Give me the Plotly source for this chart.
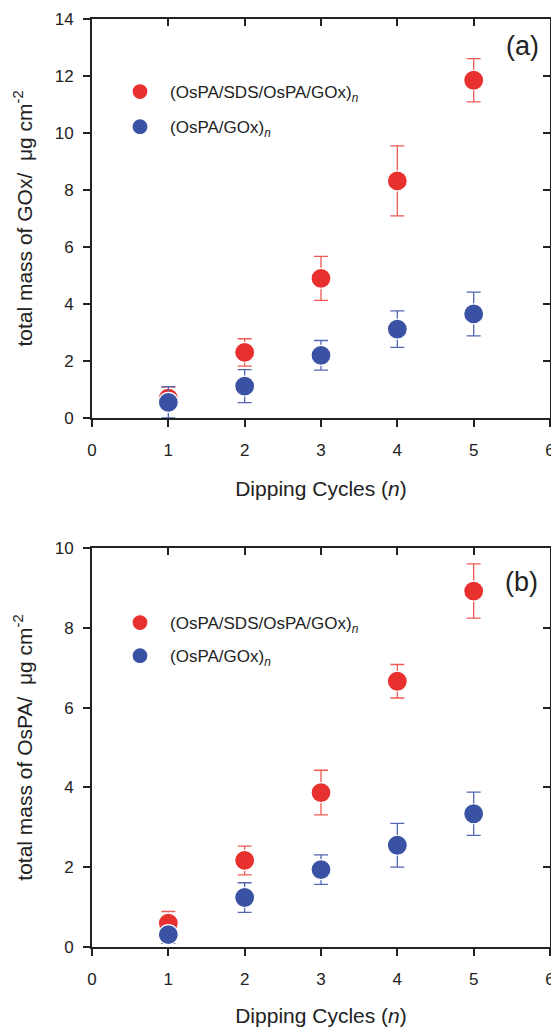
import plotly.graph_objects as go

# ---------------- data ----------------
cycles = [1, 2, 3, 4, 5]
x_tick_vals = [0, 1, 2, 3, 4, 5, 6]
ya_tick_vals = [0, 2, 4, 6, 8, 10, 12, 14]
yb_tick_vals = [0, 2, 4, 6, 8, 10]

series_names = ["(OsPA/SDS/OsPA/GOx)<sub><i>n</i></sub>", "(OsPA/GOx)<sub><i>n</i></sub>"]

# panel (a): total mass of GOx
gox_multi = [0.70, 2.30, 4.90, 8.32, 11.85]
gox_multi_err = [0.38, 0.48, 0.77, 1.23, 0.76]
gox_bi = [0.55, 1.12, 2.20, 3.12, 3.65]
gox_bi_err = [0.55, 0.58, 0.52, 0.64, 0.77]

# panel (b): total mass of OsPA
ospa_multi = [0.60, 2.17, 3.87, 6.66, 8.92]
ospa_multi_err = [0.29, 0.36, 0.56, 0.42, 0.68]
ospa_bi = [0.31, 1.24, 1.94, 2.55, 3.34]
ospa_bi_err = [0.22, 0.37, 0.37, 0.55, 0.54]

# ---------------- style ----------------
RED = "#e8302e"
RED_ERR = "#ef5a55"
BLUE = "#3a52a3"
BLUE_ERR = "#5367b4"
AX = "#222222"
FONT = "Liberation Sans, Arial, sans-serif"

fig = go.Figure()


def add_series(y, err, color, ecolor, name, xa, ya, legend):
    fig.add_trace(go.Scatter(
        x=cycles, y=y, mode="markers", name=name,
        xaxis=xa, yaxis=ya, legend=legend, legendgroup=legend + name,
        marker=dict(size=20, color=color, line=dict(color="white", width=1.2)),
        error_y=dict(type="data", array=err, visible=True, color=ecolor,
                     thickness=1.3, width=7),
        showlegend=True,
    ))


def add_frame_carrier(y, xa, ya):
    # invisible carrier so the mirrored (inside-tick) top/right axes get drawn
    fig.add_trace(go.Scatter(
        x=cycles, y=y, mode="markers", xaxis=xa, yaxis=ya,
        marker=dict(size=1, opacity=0), hoverinfo="skip", showlegend=False,
    ))


add_series(gox_multi, gox_multi_err, RED, RED_ERR, series_names[0], "x", "y", "legend")
add_series(gox_bi, gox_bi_err, BLUE, BLUE_ERR, series_names[1], "x", "y", "legend")
add_series(ospa_multi, ospa_multi_err, RED, RED_ERR, series_names[0], "x2", "y2", "legend2")
add_series(ospa_bi, ospa_bi_err, BLUE, BLUE_ERR, series_names[1], "x2", "y2", "legend2")
add_frame_carrier(gox_multi, "x3", "y3")
add_frame_carrier(ospa_multi, "x4", "y4")

L, R, T, B = 92, 1, 19, 80
W, H = 551, 1027
ph = H - T - B
dom_a = [(H - B - 418) / ph, 1.0]
dom_b = [0.0, 399 / ph]

tickfont = dict(family=FONT, size=17, color=AX)
titlefont = dict(family=FONT, size=21, color=AX)


def base_x(domain_anchor, title):
    return dict(range=[0, 6], tickvals=x_tick_vals, showgrid=False, zeroline=False,
                showline=True, linewidth=2, linecolor=AX, ticks="outside", ticklen=7,
                tickwidth=2, tickcolor=AX, tickfont=tickfont, ticklabelstandoff=9,
                ticklabeloverflow="allow", mirror=True, automargin=False,
                title=dict(text=title, font=titlefont, standoff=22),
                anchor=domain_anchor, fixedrange=True)


def base_y(domain, rng, tv, anchor, title):
    return dict(range=rng, tickvals=tv, domain=domain, showgrid=False, zeroline=False,
                showline=True, linewidth=2, linecolor=AX, ticks="outside", ticklen=7,
                tickwidth=2, tickcolor=AX, tickfont=tickfont, ticklabelstandoff=6,
                mirror=True, automargin=False,
                title=dict(text=title, font=titlefont, standoff=16),
                anchor=anchor, fixedrange=True)


def mirror_x(over, anchor):
    return dict(overlaying=over, side="top", anchor=anchor, range=[0, 6], tickvals=x_tick_vals,
                showticklabels=False, ticks="inside", ticklen=7, tickwidth=2, tickcolor=AX,
                showline=True, linewidth=2, linecolor=AX, showgrid=False, zeroline=False,
                automargin=False, fixedrange=True)


def mirror_y(over, anchor, rng, tv):
    return dict(overlaying=over, side="right", anchor=anchor, range=rng, tickvals=tv,
                showticklabels=False, ticks="inside", ticklen=7, tickwidth=2, tickcolor=AX,
                showline=True, linewidth=2, linecolor=AX, showgrid=False, zeroline=False,
                automargin=False, fixedrange=True)


def py(px):
    return (H - B - px) / ph


def pxx(px):
    return (px - L) / (W - L - R)


legend_common = dict(font=dict(family=FONT, size=17, color=AX), bgcolor="rgba(0,0,0,0)",
                     itemsizing="trace", itemwidth=50,
                     xanchor="left", yanchor="top", xref="paper", yref="paper",
                     traceorder="grouped", itemclick=False, itemdoubleclick=False)

fig.update_layout(
    width=W, height=H,
    margin=dict(l=L, r=R, t=T, b=B, autoexpand=False),
    paper_bgcolor="white", plot_bgcolor="white",
    font=dict(family=FONT, color=AX),
    xaxis=base_x("y", "Dipping Cycles (<i>n</i>)"),
    yaxis=base_y(dom_a, [0, 14], ya_tick_vals, "x", "total mass of GOx/  \u03bcg cm<sup>-2</sup>"),
    xaxis2=base_x("y2", "Dipping Cycles (<i>n</i>)"),
    yaxis2=base_y(dom_b, [0, 10], yb_tick_vals, "x2", "total mass of OsPA/  \u03bcg cm<sup>-2</sup>"),
    xaxis3=mirror_x("x", "y"),
    yaxis3=mirror_y("y", "x", [0, 14], ya_tick_vals),
    xaxis4=mirror_x("x2", "y2"),
    yaxis4=mirror_y("y2", "x2", [0, 10], yb_tick_vals),
    legend=dict(x=pxx(110), y=py(74), tracegroupgap=10, **legend_common),
    legend2=dict(x=pxx(110), y=py(605), tracegroupgap=8, **legend_common),
    annotations=[
        dict(text="(a)", xref="x domain", yref="y domain", x=0.939, y=0.932,
             xanchor="center", yanchor="middle",
             showarrow=False, font=dict(family=FONT, size=27, color=AX)),
        dict(text="(b)", xref="x2 domain", yref="y2 domain", x=0.938, y=0.914,
             xanchor="center", yanchor="middle",
             showarrow=False, font=dict(family=FONT, size=27, color=AX)),
    ],
    showlegend=True,
)

fig.write_html("out.html")
